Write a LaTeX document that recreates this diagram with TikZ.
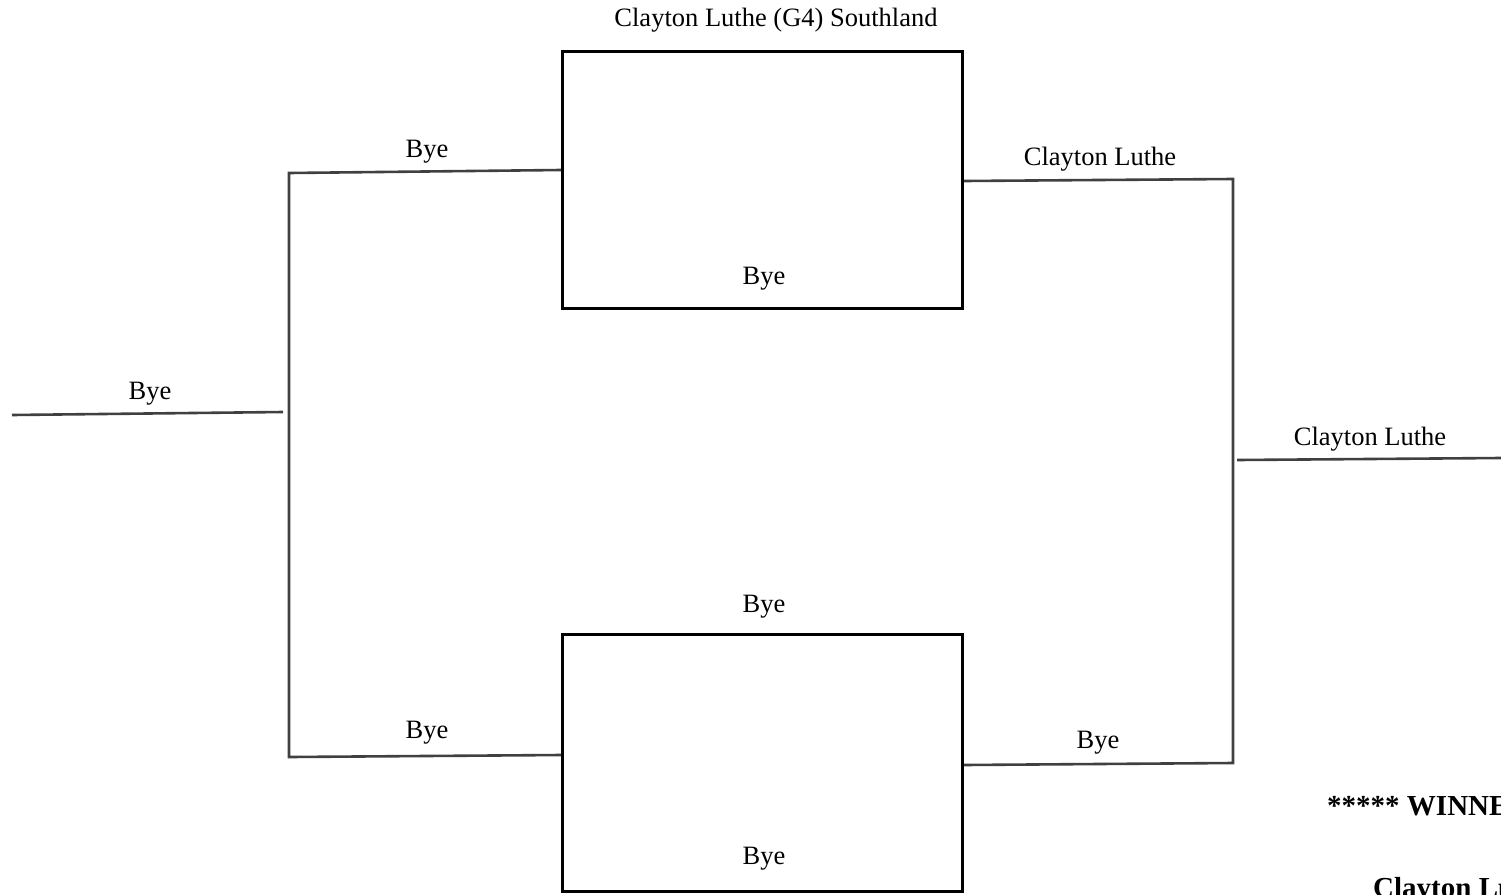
\documentclass[tikz,border=0pt]{standalone}
\usepackage{fontspec}
\setmainfont{Liberation Serif}
\begin{document}
\begin{tikzpicture}[x=1pt,y=-1pt,
  matchbox/.style={draw=black,line width=3pt,minimum width=400pt,minimum height=257pt,inner sep=0pt},
  bline/.style={draw=black!75,line width=2.6pt},
  lbl/.style={anchor=base,inner sep=0pt,font=\fontsize{26.5}{30}\selectfont},
  blbl/.style={anchor=base west,inner sep=0pt,font=\fontsize{29}{33}\selectfont\bfseries}]
\useasboundingbox (0,0) rectangle (1501,894);
\clip (0,0) rectangle (1501,894);
% boxes
\node[matchbox] (top) at (762.5,180) {};
\node[matchbox] (bot) at (762.5,763) {};
% coordinates
\coordinate (tl) at (289,173);
\coordinate (tla) at (top.west |- 0,170);
\coordinate (bl) at (289,757);
\coordinate (bla) at (bot.west |- 0,755);
\coordinate (in1) at (12,415);
\coordinate (in2) at (283,412);
\coordinate (tra) at (top.east |- 0,181);
\coordinate (tr) at (1233,179);
\coordinate (bra) at (bot.east |- 0,765);
\coordinate (br) at (1233,763);
\coordinate (o1) at (1237,460);
\coordinate (o2) at (1501,458);
% lines
\draw[bline] (tla) -- (tl) -- (bl) -- (bla);
\draw[bline] (in1) -- (in2);
\draw[bline] (tra) -- (tr) -- (br) -- (bra);
\draw[bline] (o1) -- (o2);
% labels
\node[lbl] (t0) at (776,27) {Clayton Luthe (G4) Southland};
\node[lbl] (t1) at (764,284) {Bye};
\node[lbl] (t2) at (764,612) {Bye};
\node[lbl] (t3) at (764,864) {Bye};
\node[lbl] (t4) at (427,157) {Bye};
\node[lbl] (t5) at (427,738) {Bye};
\node[lbl] (t6) at (150,399) {Bye};
\node[lbl] (t7) at (1100,165) {Clayton Luthe};
\node[lbl] (t8) at (1098,748) {Bye};
\node[lbl] (t9) at (1370,445) {Clayton Luthe};
\node[blbl] (w1) at (1327,815) {***** WINNER *****};
\node[blbl] (w2) at (1373,897) {Clayton Luthe};
\end{tikzpicture}
\end{document}
